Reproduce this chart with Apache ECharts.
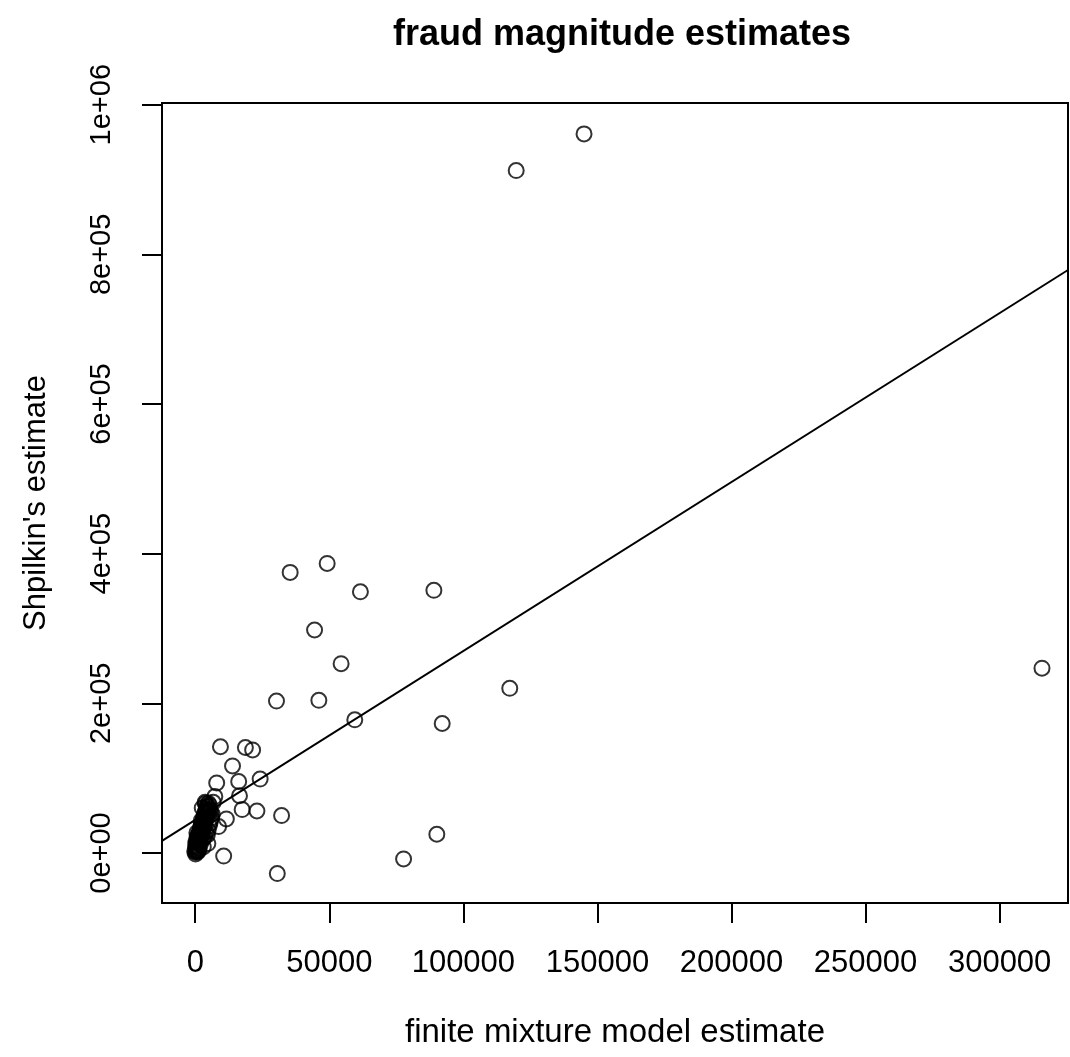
<!DOCTYPE html>
<html>
<head>
<meta charset="utf-8">
<script src="https://cdn.jsdelivr.net/npm/echarts@6/dist/echarts.min.js"></script>
<style>
html,body{margin:0;padding:0;background:#fff;}
#chart{width:1070px;height:1057px;}
</style>
</head>
<body>
<div id="chart"></div>
<script>
// finite mixture model estimate (x) vs Shpilkin's estimate (y)
var pointsX = [
  145000, 119700, 315800, 35400, 49200, 61600, 89000, 44500, 54400, 30300, 46100, 59500, 92100, 117300,
  90100, 77700, 9400, 18700, 21400, 13900, 8000, 16200, 24200, 7300, 16500, 3700, 6700, 17500, 23000,
  32200, 11600, 8700, 4700, 10600, 30600,
  120, 300, 450, 200, 600, 900, 350, 800, 1100, 500, 1300, 950, 700, 1500, 1200, 1800, 1000, 1600, 2100,
  1400, 2000, 2500, 1700, 2300, 2800, 2000, 2700, 3200, 2400, 3000, 3500, 2900, 3400, 3900, 3300, 3800,
  4300, 3700, 4200, 4700, 4100, 4600, 5100, 4400, 5300, 1900, 2600, 600, 3500,
  5500, 6000, 4800, 200, 700, 5800, 6300, 3000, 4500, 1200, 2200, 5200, 2600, 3800,
  -200, 100, 400, 850, 1250, 1650, 2050, 2450, 2900, 3300, 3700, 4100, 4500, 4900, 5400, 1000, 1500, 3100, 4000, 5700
];
var pointsY = [
  961000, 912000, 247000, 375000, 387000, 349000, 351000, 298000, 253000, 203000, 204000, 178000, 173000, 220000,
  25000, -8000, 142000, 141000, 137700, 116300, 93600, 95500, 98800, 75400, 76500, 67800, 67800, 58000, 56100,
  50000, 45500, 35300, 12600, -4100, -27500,
  -1500, 800, 2500, 4000, 5200, 3000, 7500, 9000, 6500, 11000, 12500, 14000, 16500, 15800, 19000, 18000, 21500, 23000, 21000,
  26000, 27500, 25000, 30000, 32000, 29500, 35000, 36500, 34000, 39500, 41000, 38500, 44500, 46000, 43500, 49500, 51000,
  48000, 54500, 56000, 53500, 59000, 61500, 58000, 64000, 63500, 12000, 17500, 27000, 22500,
  40000, 47000, 30000, 15000, 22000, 55000, 52000, 8000, 24000, 3500, 43000, 36000, 60000, 66000,
  2000, 9500, 13000, 18500, 24500, 28500, 33000, 37500, 42000, 47500, 52500, 57000, 62000, 66500, 56500, 1500, 6000, 20000, 28000, 44000
];
// fitted straight line, read at the two edges of the plot box
var fitLineX = [-12400, 325500];
var fitLineY = [16100, 779100];

var xTickValues = [0, 50000, 100000, 150000, 200000, 250000, 300000];
var xTickLabels = ['0', '50000', '100000', '150000', '200000', '250000', '300000'];
var yTickValues = [0, 200000, 400000, 600000, 800000, 1000000];
var yTickLabels = ['0e+00', '2e+05', '4e+05', '6e+05', '8e+05', '1e+06'];

var titleText = 'fraud magnitude estimates';
var xTitle = 'finite mixture model estimate';
var yTitle = "Shpilkin's estimate";

var scatterData = pointsX.map(function (x, i) { return [x, pointsY[i]]; });
var lineData = fitLineX.map(function (x, i) { return [x, fitLineY[i]]; });

var FONT = "'Liberation Sans', Arial, Helvetica, sans-serif";
var chart = echarts.init(document.getElementById('chart'), null, {renderer: 'canvas'});
chart.setOption({
  animation: false,
  backgroundColor: '#fff',
  title: {
    text: titleText,
    left: 617, top: 12, textAlign: 'center',
    textStyle: {fontFamily: FONT, fontSize: 36, fontWeight: 'bold', color: '#000'}
  },
  grid: {
    left: 162, right: 2, top: 103, bottom: 154,
    show: true, borderColor: '#000', borderWidth: 2, backgroundColor: 'transparent'
  },
  xAxis: {
    type: 'value', min: -12400, max: 325500,
    name: xTitle, nameLocation: 'middle', nameGap: 113,
    nameTextStyle: {fontFamily: FONT, fontSize: 33, color: '#000'},
    axisLine: {show: false, onZero: false},
    splitLine: {show: false},
    axisTick: {show: true, inside: false, length: 20, customValues: xTickValues,
      lineStyle: {color: '#000', width: 2}},
    axisLabel: {show: true, customValues: xTickValues, margin: 45,
      fontFamily: FONT, fontSize: 31, color: '#000',
      formatter: function (v) { var i = xTickValues.indexOf(v); return i >= 0 ? xTickLabels[i] : ''; }}
  },
  yAxis: {
    type: 'value', min: -66845, max: 1002270,
    name: yTitle, nameLocation: 'middle', nameGap: 110,
    nameTextStyle: {fontFamily: FONT, fontSize: 31, color: '#000'},
    axisLine: {show: false, onZero: false},
    splitLine: {show: false},
    axisTick: {show: true, inside: false, length: 20, customValues: yTickValues,
      lineStyle: {color: '#000', width: 2}},
    axisLabel: {show: true, customValues: yTickValues, margin: 46, rotate: 90,
      fontFamily: FONT, fontSize: 29, color: '#000',
      formatter: function (v) { var i = yTickValues.indexOf(v); return i >= 0 ? yTickLabels[i] : ''; }}
  },
  series: [
    {
      type: 'line', data: lineData, symbol: 'none', clip: true,
      lineStyle: {color: '#000', width: 2}, silent: true
    },
    {
      type: 'scatter', data: scatterData, symbol: 'circle', symbolSize: 15,
      itemStyle: {color: 'rgba(0,0,0,0)', borderColor: '#000', borderWidth: 2}
    }
  ]
});
</script>
</body>
</html>
